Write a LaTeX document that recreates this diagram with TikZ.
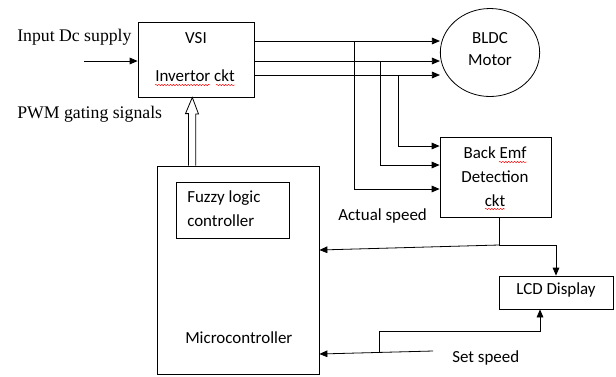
\documentclass[tikz,border=0pt]{standalone}
\usepackage{fontspec}
\setmainfont{Liberation Serif}
\newfontfamily\calibri{Carlito}
\usetikzlibrary{shapes.geometric, arrows.meta, positioning, calc, decorations.pathmorphing}
\tikzset{
  block/.style={draw, line width=0.6pt, inner sep=0pt},
  lbl/.style={font=\calibri\fontsize{12.7}{14}\selectfont, inner sep=0pt, anchor=base},
  side/.style={font=\fontsize{13.3}{15}\selectfont, inner sep=0pt, anchor=base west},
  sig/.style={line width=0.6pt, -{Triangle[length=6pt,width=5pt]}},
  squig/.style={red, line width=0.35pt, decorate, decoration={snake, amplitude=0.5pt, segment length=2.2pt}}
}
\begin{document}
\begin{tikzpicture}[x=0.75pt, y=-0.75pt]
  \useasboundingbox (0,0) rectangle (616,376);
  % blocks
  \node[block, minimum width=87pt, minimum height=56.25pt] (vsi) at (196,59.5) {};
  \node[block, ellipse, minimum width=74.5pt, minimum height=66pt] (motor) at (490,52.5) {};
  \node[block, minimum width=83.25pt, minimum height=60pt] (bemf) at (495.5,177) {};
  \node[block, minimum width=121.5pt, minimum height=156pt] (mcu) at (238,270) {};
  \node[block, minimum width=84.75pt, minimum height=42pt] (fuzzy) at (232.5,210) {};
  \node[block, minimum width=85.5pt, minimum height=24.75pt] (lcd) at (556,292.5) {};
  % texts
  \node[side] (dcin) at (17,41) {Input Dc supply};
  \node[side] (pwm) at (17,118) {PWM gating signals};
  \node[lbl] (vsit) at (196,43) {VSI};
  \node[lbl] (invt) at (195,81) {Invertor ckt};
  \node[lbl] (bldc) at (490,43) {BLDC};
  \node[lbl] (mot) at (490,65) {Motor};
  \node[lbl] (bemf1) at (495,158) {Back Emf};
  \node[lbl] (bemf2) at (495,182) {Detection};
  \node[lbl] (bemf3) at (495,206) {ckt};
  \node[lbl, anchor=base west] (act) at (338,220) {Actual speed};
  \node[lbl, anchor=base west] (fz1) at (187,202) {Fuzzy logic};
  \node[lbl, anchor=base west] (fz2) at (187,226) {controller};
  \node[lbl, anchor=base west] (mct) at (185,343) {Microcontroller};
  \node[lbl] (lcdt) at (556,294) {LCD Display};
  \node[lbl, anchor=base west] (set) at (452,362) {Set speed};
  % spelling marks
  \draw[squig] (155,85) -- (210,85);
  \draw[squig] (216,85) -- (235,85);
  \draw[squig] (499,162) -- (527,162);
  \draw[squig] (485,209) -- (505,209);
  % dc input
  \coordinate (inp) at (84,61);
  \draw[sig] (inp) -- (vsi.west |- inp);
  % three phases and back emf sensing
  \foreach \y/\x/\t in {41/354/189, 61/380/165, 75/398/146}{
    \coordinate (ph) at (\x,\y);
    \draw[sig] (vsi.east |- ph) -- (motor.west |- ph);
    \draw[sig] (ph) |- (bemf.west |- 0,\t);
  }
  % gating signals
  \draw[line width=0.6pt, fill=white] ($(mcu.north -| vsi.south)+(-7.5,0)$) -- ++(0,-52) -- ++(-3,0)
    -- ($(vsi.south)+(-3.7,0)$) -- ++(6.2,16.5) -- ++(-2.7,0) -- ($(mcu.north -| vsi.south)+(-0.2,0)$);
  % actual speed
  \coordinate (j1) at (499,245);
  \draw[line width=0.6pt] (bemf.south -| j1) -- (j1);
  \draw[sig] (j1) -- (mcu.east |- 0,250);
  \draw[sig] (j1) -| (lcd.north);
  % set speed
  \coordinate (ss) at (433,351);
  \coordinate (j2) at (379,353);
  \draw[sig] (ss) -- (mcu.east |- 0,354);
  \draw[sig] (j2) -- ++(0,-22) -| ($(lcd.south)+(-16,0)$);
\end{tikzpicture}
\end{document}
